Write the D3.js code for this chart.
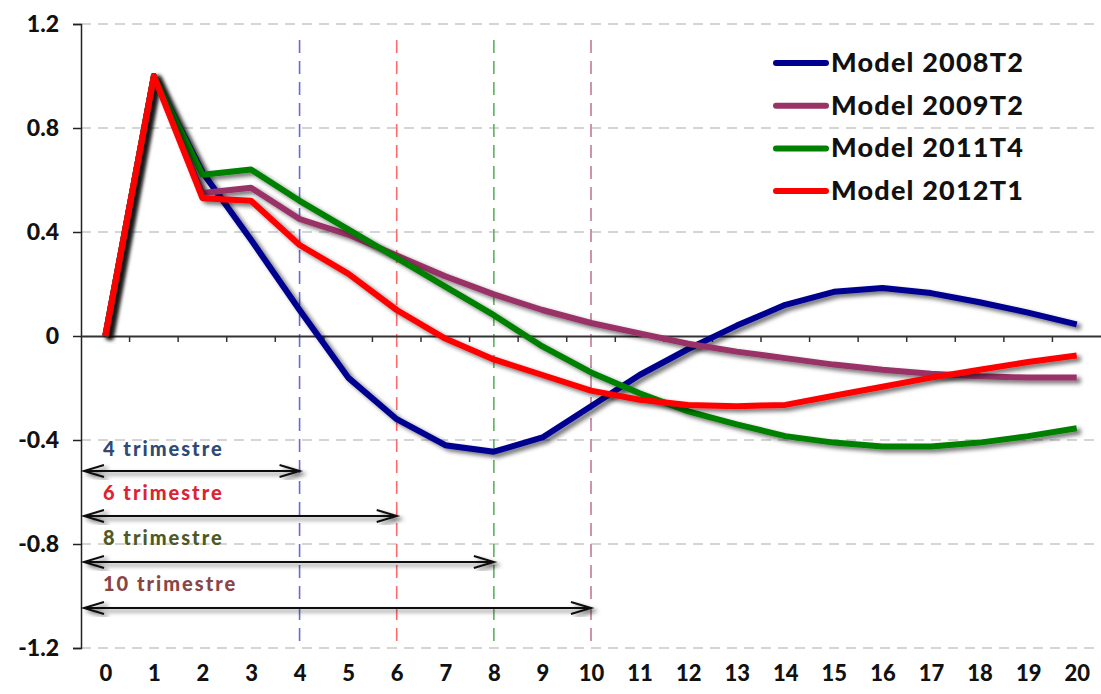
<!DOCTYPE html>
<html>
<head>
<meta charset="utf-8">
<script src="https://cdn.jsdelivr.net/npm/d3@7"></script>
<style>
html,body{margin:0;padding:0;background:#fff;}
svg{display:block;font-family:Lato,"Open Sans",sans-serif;}
</style>
</head>
<body>
<svg id="chart" width="1101" height="694"></svg>
<script>
const periods = d3.range(0, 21);
const yTicks = [-1.2, -0.8, -0.4, 0, 0.4, 0.8, 1.2];
const yTickLabels = ["-1.2", "-0.8", "-0.4", "0", "0.4", "0.8", "1.2"];
const seriesNames = ["Model 2008T2", "Model 2009T2", "Model 2011T4", "Model 2012T1"];
const seriesColors = ["#000090", "#993366", "#008000", "#ff0000"];
const model2008T2 = [0, 1.0, 0.63, 0.37, 0.10, -0.16, -0.32, -0.42, -0.445, -0.39, -0.27, -0.15, -0.05, 0.04, 0.12, 0.17, 0.185, 0.165, 0.13, 0.09, 0.045];
const model2009T2 = [0, 1.0, 0.55, 0.57, 0.45, 0.39, 0.31, 0.23, 0.16, 0.10, 0.05, 0.01, -0.03, -0.06, -0.085, -0.11, -0.13, -0.145, -0.155, -0.16, -0.16];
const model2011T4 = [0, 1.0, 0.62, 0.64, 0.52, 0.41, 0.30, 0.19, 0.08, -0.04, -0.14, -0.22, -0.29, -0.34, -0.385, -0.41, -0.425, -0.425, -0.41, -0.385, -0.355];
const model2012T1 = [0, 1.0, 0.53, 0.52, 0.35, 0.24, 0.10, -0.01, -0.09, -0.15, -0.21, -0.245, -0.265, -0.27, -0.265, -0.23, -0.195, -0.16, -0.13, -0.10, -0.075];
const horizons = [4, 6, 8, 10];
const horizonLabels = ["4 trimestre", "6 trimestre", "8 trimestre", "10 trimestre"];
const horizonLineColors = ["#6a6ad0", "#ff6a6a", "#5fb05f", "#c07a9a"];
const horizonTextColors = ["#2e4a75", "#dd2233", "#4e5a25", "#8a4545"];

const seriesValues = [model2008T2, model2009T2, model2011T4, model2012T1];

const svg = d3.select("#chart");
const plotLeft = 81, plotRight = 1101, plotTop = 24, plotBottom = 648;

const x = d3.scalePoint().domain(periods).range([plotLeft, plotRight]).padding(0.5);
const step = x.step();
const y = d3.scaleLinear().domain([-1.2, 1.2]).range([plotBottom, plotTop]);

const defs = svg.append("defs");
const sh = defs.append("filter").attr("id", "shadow").attr("x", "-10%").attr("y", "-10%").attr("width", "130%").attr("height", "130%");
sh.append("feDropShadow").attr("dx", 4).attr("dy", 3).attr("stdDeviation", 2.2).attr("flood-color", "#000").attr("flood-opacity", 0.55);

// horizontal dashed grid
svg.append("g").selectAll("line").data(yTicks.filter(d => d !== 0)).join("line")
  .attr("x1", plotLeft).attr("x2", 1096)
  .attr("y1", d => y(d)).attr("y2", d => y(d))
  .attr("stroke", "#c8c8c8").attr("stroke-width", 1.5).attr("stroke-dasharray", "10,7");

// vertical horizon lines
svg.append("g").selectAll("line").data(horizons).join("line")
  .attr("x1", d => x(d)).attr("x2", d => x(d))
  .attr("y1", 40).attr("y2", plotBottom)
  .attr("stroke", (d, i) => horizonLineColors[i]).attr("stroke-width", 1.6).attr("stroke-dasharray", "13,8");

// y axis
const yAxis = d3.axisLeft(y).tickValues(yTicks).tickSize(8).tickFormat((d, i) => yTickLabels[i]);
const gy = svg.append("g").attr("transform", `translate(${plotLeft},0)`).call(yAxis);
gy.select(".domain").attr("stroke", "#222").attr("stroke-width", 1.5);
gy.selectAll(".tick line").attr("stroke", "#222").attr("stroke-width", 1.5);
gy.selectAll(".tick text").attr("x", -22).attr("fill", "#111")
  .style("font-size", "23px").style("font-weight", "900").style("font-family", "Lato, sans-serif");

// x axis at zero
const xAxis = d3.axisBottom(x).tickSize(0).tickFormat(d => d);
const gx = svg.append("g").attr("transform", `translate(0,${y(0)})`).call(xAxis);
gx.select(".domain").attr("stroke", "#333").attr("stroke-width", 2);
gx.selectAll(".tick text").attr("y", 681 - y(0)).attr("dy", 0).attr("fill", "#111")
  .style("font-size", "22px").style("font-weight", "900").style("font-family", "Lato, sans-serif");
// minor ticks at band boundaries
gx.append("g").selectAll("line").data(periods.slice(1)).join("line")
  .attr("x1", d => x(d) - step / 2).attr("x2", d => x(d) - step / 2)
  .attr("y1", 0).attr("y2", 6).attr("stroke", "#333").attr("stroke-width", 1.5);

// lines
const line = d3.line().x((d, i) => x(periods[i])).y(d => y(d)).curve(d3.curveLinear);
svg.append("g").selectAll("path").data(seriesValues).join("path")
  .attr("d", d => line(d))
  .attr("fill", "none")
  .attr("stroke", (d, i) => seriesColors[i])
  .attr("stroke-width", 6)
  .attr("stroke-linejoin", "round")
  .attr("filter", "url(#shadow)");

// legend
const lg = svg.append("g");
seriesNames.forEach((name, i) => {
  const yy = 63 + i * 42.7;
  lg.append("line").attr("x1", 776).attr("x2", 826).attr("y1", yy).attr("y2", yy)
    .attr("stroke", seriesColors[i]).attr("stroke-width", 6).attr("stroke-linecap", "round");
  lg.append("text").attr("x", 831).attr("y", yy + 9).text(name)
    .attr("fill", "#111").style("font-size", "27px").style("font-weight", "900")
    .style("letter-spacing", "1.2px");
});

// horizon annotations
const ann = svg.append("g");
const annTextY = [450, 494, 539, 585];
const annArrowY = [471, 516, 562, 608];
horizons.forEach((h, i) => {
  ann.append("text").attr("x", 103).attr("y", annTextY[i] + 6).text(horizonLabels[i])
    .attr("fill", horizonTextColors[i]).style("font-size", "20px").style("font-weight", "900")
    .style("letter-spacing", "2px");
  const x0 = plotLeft + 3, x1 = x(h);
  const ay = annArrowY[i];
  const g = ann.append("g").attr("filter", "url(#shadow)");
  g.append("line").attr("x1", x0).attr("x2", x1).attr("y1", ay).attr("y2", ay)
    .attr("stroke", "#111").attr("stroke-width", 2);
  g.append("path").attr("d", `M${x0 + 20},${ay - 6} L${x0},${ay} L${x0 + 20},${ay + 6}`)
    .attr("fill", "none").attr("stroke", "#111").attr("stroke-width", 2);
  g.append("path").attr("d", `M${x1 - 20},${ay - 6} L${x1},${ay} L${x1 - 20},${ay + 6}`)
    .attr("fill", "none").attr("stroke", "#111").attr("stroke-width", 2);
});
</script>
</body>
</html>
